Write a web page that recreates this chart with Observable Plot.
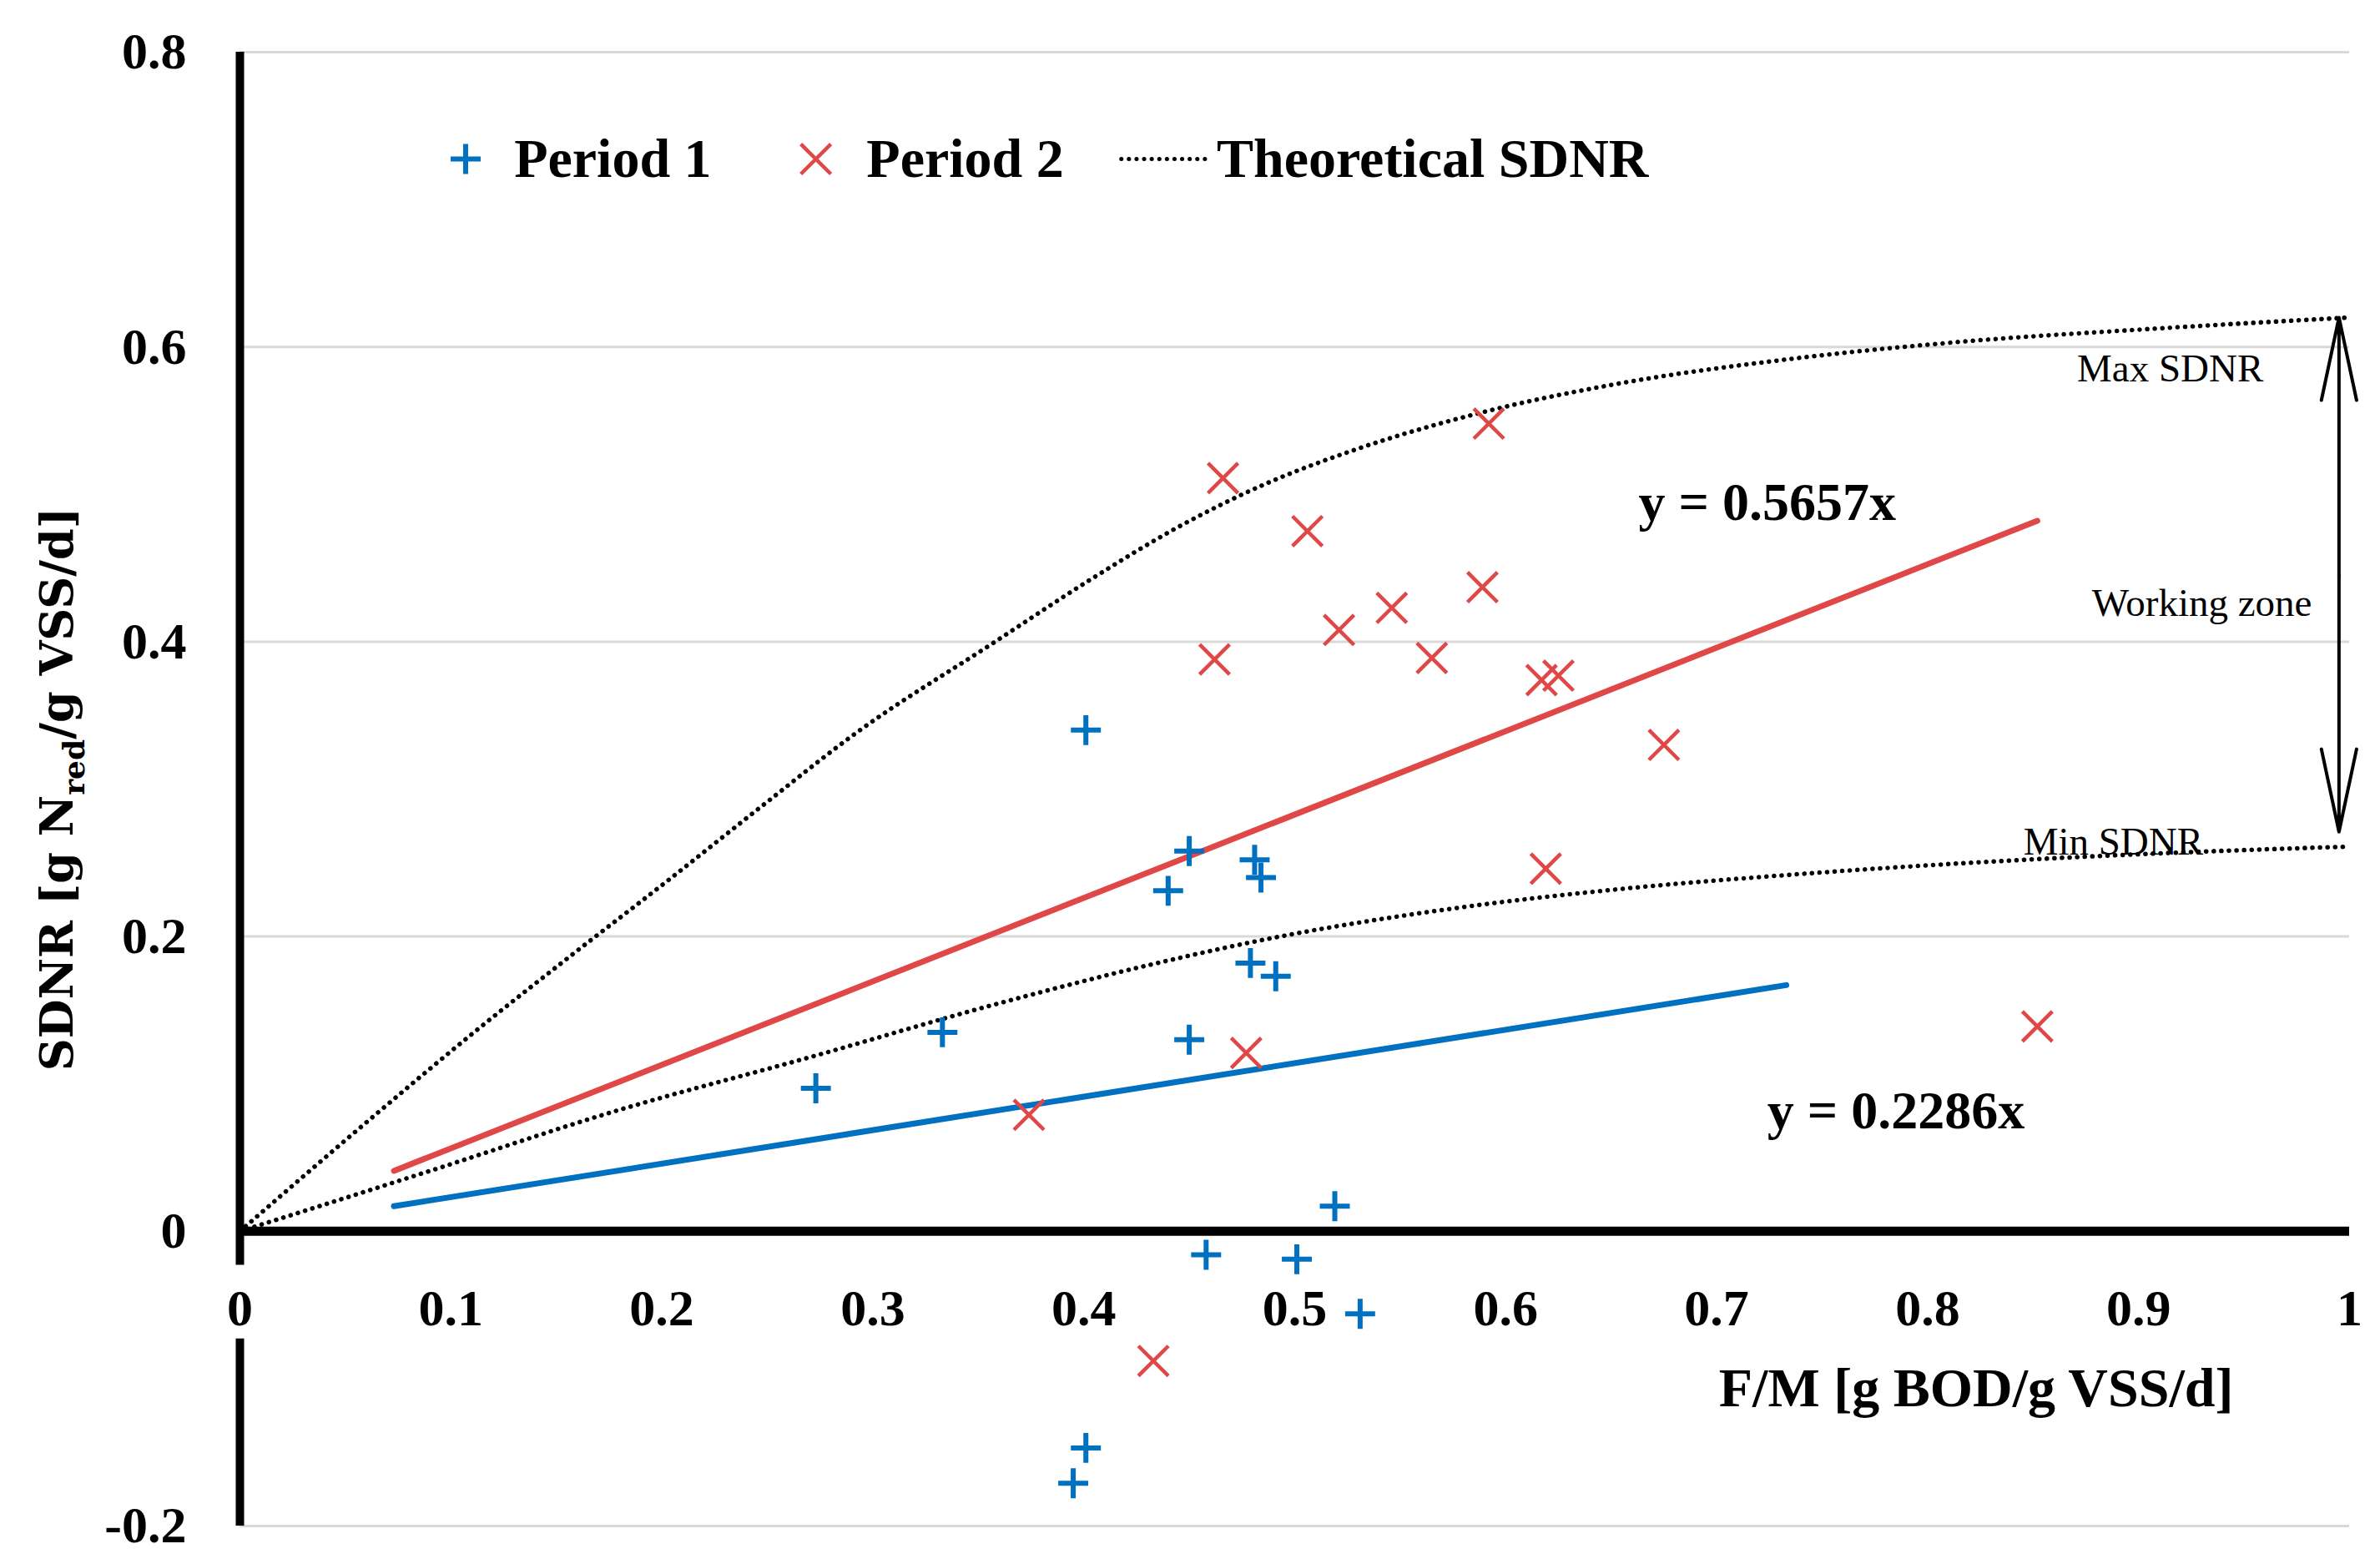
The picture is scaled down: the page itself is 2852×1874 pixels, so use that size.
<!DOCTYPE html>
<html lang="en">
<head>
<meta charset="UTF-8">
<script src="https://cdn.jsdelivr.net/npm/d3@7"></script>
<script src="https://cdn.jsdelivr.net/npm/@observablehq/plot@0.6"></script>
<style>
  body { margin: 0; background: white; }
</style>
</head>
<body>
<div id="plot"></div>
<script>
// Period 1 (blue +)
const p1x = [0.273, 0.333, 0.401, 0.450, 0.440, 0.481, 0.484, 0.479, 0.491, 0.450, 0.519, 0.458, 0.501, 0.531, 0.401, 0.395];
const p1y = [0.097, 0.135, 0.340, 0.258, 0.231, 0.252, 0.240, 0.182, 0.173, 0.130, 0.017, -0.016, -0.019, -0.056, -0.147, -0.171];
// Period 2 (red x)
const p2x = [0.374, 0.466, 0.506, 0.592, 0.589, 0.521, 0.546, 0.462, 0.565, 0.617, 0.625, 0.675, 0.619, 0.477, 0.852, 0.433];
const p2y = [0.079, 0.511, 0.475, 0.548, 0.437, 0.408, 0.423, 0.388, 0.389, 0.374, 0.377, 0.330, 0.246, 0.121, 0.139, -0.088];

// theoretical SDNR curves
const maxX = [0, 0.065, 0.111, 0.156, 0.202, 0.247, 0.292, 0.358, 0.403, 0.445, 0.486, 0.528, 0.59, 0.653, 0.736, 0.82, 0.903, 1];
const maxY = [0, 0.08, 0.135, 0.186, 0.237, 0.288, 0.338, 0.4, 0.442, 0.478, 0.507, 0.53, 0.556, 0.575, 0.592, 0.604, 0.612, 0.62];
const minX = [0, 0.088, 0.179, 0.27, 0.353, 0.432, 0.486, 0.57, 0.653, 0.736, 0.82, 0.903, 1];
const minY = [0, 0.04, 0.082, 0.118, 0.152, 0.181, 0.198, 0.218, 0.232, 0.242, 0.25, 0.256, 0.261];

// linear fits (end points)
const fit1X = [0.073, 0.733];
const fit1Y = [0.017, 0.167];
const fit2X = [0.073, 0.852];
const fit2Y = [0.041, 0.482];

const xTicks = [0, 0.1, 0.2, 0.3, 0.4, 0.5, 0.6, 0.7, 0.8, 0.9, 1];
const yTicks = [-0.2, 0, 0.2, 0.4, 0.6, 0.8];
const gridTicks = [-0.2, 0.2, 0.4, 0.6, 0.8];
const legendLabels = ["Period 1", "Period 2", "Theoretical SDNR"];
const yTitle = "SDNR [g Nred/g VSS/d]";
const xTitle = "F/M [g BOD/g VSS/d]";

const blue = "#0070c0";
const red = "#e04848";

const zip = (xs, ys) => xs.map((x, i) => ({x, y: ys[i]}));
const period1 = zip(p1x, p1y);
const period2 = zip(p2x, p2y);
const maxCurve = zip(maxX, maxY);
const minCurve = zip(minX, minY);
const fit1 = zip(fit1X, fit1Y);
const fit2 = zip(fit2X, fit2Y);

const dotted = {stroke: "black", strokeWidth: 5.5, strokeDasharray: "0.1 9", strokeLinecap: "round"};
const plusStyle = {symbol: "plus", r: 11.6, stroke: blue, fill: "none", strokeWidth: 6};
const timesStyle = {symbol: "times", r: 16.4, stroke: red, fill: "none", strokeWidth: 4.5};
const legendY = 0.7275;

const plot = Plot.plot({
  width: 2852,
  height: 1874,
  marginLeft: 287,
  marginRight: 37,
  marginTop: 62,
  marginBottom: 46,
  x: {domain: [0, 1], axis: null},
  y: {domain: [-0.2, 0.8]},
  style: {fontFamily: "'Liberation Serif', serif", fontSize: "62px", fontWeight: "bold", background: "white", overflow: "visible"},
  marks: [
    Plot.ruleY(gridTicks, {stroke: "#d9d9d9", strokeWidth: 3}),
    Plot.line(maxCurve, {x: "x", y: "y", curve: "monotone-x", ...dotted}),
    Plot.line(minCurve, {x: "x", y: "y", curve: "monotone-x", ...dotted}),
    Plot.line(fit2, {x: "x", y: "y", stroke: red, strokeWidth: 7, strokeLinecap: "round"}),
    Plot.line(fit1, {x: "x", y: "y", stroke: blue, strokeWidth: 7, strokeLinecap: "round"}),
    Plot.ruleY([0], {stroke: "black", strokeWidth: 11}),
    Plot.ruleX([0], {y1: 0.8, y2: -0.023, stroke: "black", strokeWidth: 10}),
    Plot.ruleX([0], {y1: -0.073, y2: -0.2, stroke: "black", strokeWidth: 10}),
    Plot.axisY(yTicks, {tickSize: 0, tickPadding: 64, tickFormat: d => String(d), label: null, fontSize: 62, fontWeight: "bold"}),
    Plot.text(xTicks, {x: d => d, y: -0.0528, text: d => String(d), fontSize: 62, fontWeight: "bold"}),
    Plot.text([xTitle], {x: 0.945, y: -0.107, text: d => d, textAnchor: "end", fontSize: 66, fontWeight: "bold"}),
    Plot.text([yTitle], {x: -0.0862, y: 0.3, text: d => d, rotate: -90, fontSize: 54, fontWeight: "bold", fontFamily: "'DejaVu Serif', serif"}),
    Plot.dot(period2, {x: "x", y: "y", ...timesStyle}),
    Plot.dot(period1, {x: "x", y: "y", ...plusStyle}),
    // equations
    Plot.text(["y = 0.5657x"], {x: 0.724, y: 0.494, text: d => d, fontSize: 64, fontWeight: "bold"}),
    Plot.text(["y = 0.2286x"], {x: 0.785, y: 0.0814, text: d => d, fontSize: 64, fontWeight: "bold"}),
    // working zone annotation
    Plot.arrow([{y1: 0.445, y2: 0.62}, {y1: 0.445, y2: 0.271}], {x1: 0.995, x2: 0.995, y1: "y1", y2: "y2", stroke: "black", strokeWidth: 4, headLength: 38, headAngle: 24}),
    Plot.text(["Max SDNR"], {x: 0.915, y: 0.585, text: d => d, fontSize: 47, fontWeight: "normal"}),
    Plot.text(["Working zone"], {x: 0.93, y: 0.426, text: d => d, fontSize: 47, fontWeight: "normal"}),
    Plot.text(["Min SDNR"], {x: 0.888, y: 0.264, text: d => d, fontSize: 47, fontWeight: "normal"}),
    // legend
    Plot.dot([0.107], {x: d => d, y: legendY, ...plusStyle}),
    Plot.dot([0.273], {x: d => d, y: legendY, ...timesStyle}),
    Plot.ruleY([legendY], {x1: 0.418, x2: 0.458, ...dotted, strokeWidth: 5}),
    Plot.text([{l: legendLabels[0], x: 0.130}, {l: legendLabels[1], x: 0.297}, {l: legendLabels[2], x: 0.463}],
      {x: "x", y: legendY, text: "l", textAnchor: "start", fontSize: 66, fontWeight: "bold"})
  ]
});

// subscript "red" in the y title
d3.select(plot).selectAll("text").each(function() {
  if (this.textContent === yTitle) {
    const t = d3.select(this);
    t.text(null);
    t.append("tspan").text("SDNR [g N");
    t.append("tspan").text("red").attr("font-size", 36).attr("dy", 14);
    t.append("tspan").text("/g VSS/d]").attr("dy", -14);
  }
});

document.querySelector("#plot").append(plot);
</script>
</body>
</html>
